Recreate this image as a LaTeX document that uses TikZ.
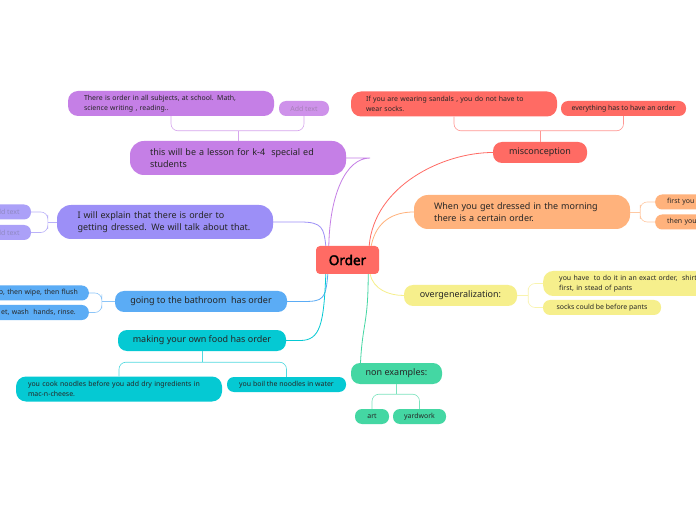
\documentclass[tikz,border=0pt]{standalone}
\usepackage{fontspec}
\setmainfont{Noto Sans}[AutoFakeBold=2.5]
\usepackage{tikz}

\definecolor{ordred}{HTML}{FF6B64}
\definecolor{purp}{HTML}{C57FE6}
\definecolor{lav}{HTML}{9C8FF7}
\definecolor{blu}{HTML}{5BACF5}
\definecolor{tea}{HTML}{05C9D3}
\definecolor{ora}{HTML}{FFB27C}
\definecolor{yel}{HTML}{F6EF8C}
\definecolor{gre}{HTML}{44D7A3}

\tikzset{
  topic/.style={rounded corners=9pt, inner xsep=10pt, inner ysep=0pt, minimum height=21pt, font=\fontsize{9}{12}\selectfont, text=black!85},
  topicwide/.style={topic, rounded corners=14pt, minimum height=34pt, align=left, text width=#1},
  sub/.style={rounded corners=7pt, inner xsep=8pt, inner ysep=0pt, minimum height=15pt, font=\fontsize{6.95}{10}\selectfont, text=black!85},
  subwide/.style={sub, rounded corners=10pt, minimum height=25pt, align=left, text width=#1},
  addtext/.style={sub, minimum width=50pt, text=#1!55!gray},
  link/.style={line width=0.8pt},
  brace/.style={line width=0.6pt, rounded corners=7pt},
}

\begin{document}
\begin{tikzpicture}[x=1pt,y=1pt]
\clip (0,0) rectangle (696,520);
\fill[white] (0,0) rectangle (696,520);
% centre
\node[fill=ordred, rounded corners=4pt, minimum width=63pt, minimum height=28pt, inner sep=0pt, font=\fontsize{13.5}{15}\selectfont\bfseries] (order) at (347.5,260) {Order};
% topics
\node[topic, fill=ordred, minimum width=94pt] (mis) at (540,367.5) {misconception};
\node[topicwide=176pt, fill=purp, inner xsep=20pt] (lesson) at (238,362) {this will be a lesson for k-4~ special ed\\students};
\node[topicwide=175pt, fill=lav, inner xsep=20.5pt] (dress) at (165,298) {I will explain that there is order to\\getting dressed. We will talk about that.};
\node[topic, fill=blu, minimum width=172pt] (bath) at (201,218.5) {going to the bathroom~ has order};
\node[topic, fill=tea, minimum width=168pt] (food) at (202,179.5) {making your own food has order};
\node[topicwide=176pt, fill=ora, inner xsep=20pt] (morn) at (522,308) {When you get dressed in the morning\\there is a certain order.};
\node[topic, fill=yel, minimum width=113pt] (over) at (460.5,224.5) {overgeneralization:};
\node[topic, fill=gre, minimum width=91pt] (non) at (396.5,146.5) {non examples:};
% subtopics
\node[subwide=176pt, fill=ordred, inner xsep=15pt] (mis1) at (454,416) {If you are wearing sandals , you do not have to\\wear socks.};
\node[sub, fill=ordred, minimum width=125pt] (mis2) at (623.5,411.5) {everything has to have an order};
\node[subwide=174pt, fill=purp, inner xsep=16pt] (les1) at (171,416.5) {There is order in all subjects, at school. Math,\\science writing , reading..};
\node[addtext=purp, fill=purp!85!white] (les2) at (304,411.5) {Add text};
\node[addtext=lav, fill=lav!85!white] (dr1) at (6,308) {Add text};
\node[addtext=lav, fill=lav!85!white] (dr2) at (6,287.5) {Add text};
\node[sub, fill=blu, anchor=east, text width=150pt, align=right, inner xsep=11pt] (ba1) at (89,227) {p, then wipe, then flush};
\node[sub, fill=blu, anchor=east, text width=150pt, align=right, inner xsep=13pt] (ba2) at (89,207.5) {et, wash~ hands, rinse.};
\node[subwide=182pt, fill=tea, inner xsep=12pt] (fo1) at (119,131) {you cook noodles before you add dry ingredients in\\mac-n-cheese.};
\node[sub, fill=tea, minimum width=119pt] (fo2) at (286.5,135.5) {you boil the noodles in water};
\node[sub, fill=ora, anchor=west, text width=80pt, align=left, inner xsep=12pt] (mo1) at (655,318) {first you};
\node[sub, fill=ora, anchor=west, text width=80pt, align=left, inner xsep=12pt] (mo2) at (655,298) {then you};
\node[subwide=174pt, fill=yel, anchor=west, inner xsep=16pt] (ov1) at (543,236.5) {you have~ to do it in an exact order,~ shirt\\first, in stead of pants};
\node[sub, fill=yel, minimum width=118pt] (ov2) at (602,212.5) {socks could be before pants};
\node[sub, fill=gre, minimum width=34pt] (ne1) at (372,103.5) {art};
\node[sub, fill=gre, minimum width=53pt] (ne2) at (419.5,103.5) {yardwork};
% links from the centre
\draw[link, purp] ([xshift=13pt]order.north west) .. controls +(1,50) and +(-25,0) .. ([xshift=24pt]lesson.east) -- (lesson.east);
\draw[link, lav] ([xshift=10pt]order.north west) .. controls +(-2,18) and +(22,0) .. ([xshift=27pt]dress.east) -- (dress.east);
\draw[link, ordred] ([xshift=-10pt]order.north east) .. controls +(5,60) and +(-50,0) .. (mis.west);
\draw[link, ora] ([xshift=-8pt]order.north east) .. controls +(5,25) and +(-20,0) .. (morn.west);
\draw[link, yel] ([xshift=-9pt]order.south east) .. controls +(3,-15) and +(-15,0) .. (over.west);
\draw[link, gre] ([xshift=-11pt]order.south east) .. controls +(0,-50) and +(2,40) .. ([xshift=-36pt]non.north);
\draw[link, blu] ([xshift=12pt]order.south west) .. controls +(-2,-25) and +(20,0) .. ([xshift=16pt]bath.east) -- (bath.east);
\draw[link, tea] ([xshift=10pt]order.south west) .. controls +(-2,-50) and +(20,0) .. ([xshift=14pt]food.east) -- (food.east);
% brackets to the subtopics
\draw[brace, ordred!70] (mis.north) -- ++(0,11) coordinate (misj);
\draw[brace, ordred!70] (mis1.south) |- (misj) -| (mis2.south);
\draw[brace, purp!70] (lesson.north) -- ++(0,10) coordinate (lesj);
\draw[brace, purp!70] (les1.south) |- (lesj) -| (les2.south);
\draw[brace, lav!70] (dress.west) -- ++(-9,0) coordinate (drj);
\draw[brace, lav!70] (dr1.east) -| (drj) |- (dr2.east);
\draw[brace, blu!70] (bath.west) -- ++(-13,0) coordinate (baj);
\draw[brace, blu!70] (ba1.east) -| (baj) |- (ba2.east);
\draw[brace, tea!70] (food.south) -- ++(0,-11) coordinate (foj);
\draw[brace, tea!70] (fo1.north) |- (foj) -| (fo2.north);
\draw[brace, ora!70] (morn.east) -- ++(10,0) coordinate (moj);
\draw[brace, ora!70] (mo1.west) -| (moj) |- (mo2.west);
\draw[brace, yel!70] (over.east) -- ++(11,0) coordinate (ovj);
\draw[brace, yel!70] (ov1.west) -| (ovj) |- (ov2.west);
\draw[brace, gre!70] (non.south) -- ++(0,-10) coordinate (nej);
\draw[brace, gre!70] (ne1.north) |- (nej) -| (ne2.north);
\end{tikzpicture}
\end{document}
